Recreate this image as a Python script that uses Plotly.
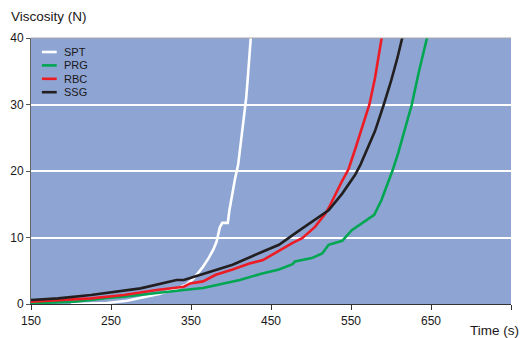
import plotly.graph_objects as go

# Viscosity build-up over time for four samples
spt_t = [200, 245, 270, 287, 310, 332, 344, 353, 361, 365, 372, 378, 382, 386, 389, 396,
         398, 402, 405, 409, 413, 416, 419, 421, 423, 425]
spt_v = [0.0, 0.15, 0.5, 0.9, 1.5, 2.3, 2.9, 3.8, 5.0, 5.6, 6.9, 8.2, 9.4, 11.5, 12.2, 12.2,
         14.1, 17.1, 18.8, 21.0, 25.0, 28.0, 31.0, 34.0, 37.0, 40.5]

prg_t = [150, 175, 204, 225, 245, 266, 287, 307, 328, 341, 365, 381, 411, 439, 460, 477,
         480, 501, 514, 522, 539, 551, 567, 579, 588, 596, 602, 609, 618, 626, 635, 646]
prg_v = [0.1, 0.2, 0.35, 0.6, 0.9, 1.1, 1.35, 1.6, 1.85, 2.1, 2.4, 2.8, 3.6, 4.6, 5.2, 6.0,
         6.4, 6.9, 7.6, 8.9, 9.5, 11.1, 12.4, 13.4, 15.6, 18.1, 20.1, 22.7, 26.5, 30.0, 35.0, 40.5]

rbc_t = [150, 185, 225, 266, 307, 341, 349, 365, 381, 402, 423, 440, 460, 477, 489, 505,
         518, 522, 538, 547, 555, 565, 573, 580, 585, 589]
rbc_v = [0.35, 0.6, 0.85, 1.35, 2.1, 2.6, 3.1, 3.4, 4.4, 5.2, 6.1, 6.6, 8.0, 9.2, 9.9, 11.6,
         13.6, 14.4, 18.3, 20.3, 23.2, 27.0, 30.0, 34.0, 37.5, 40.5]

ssg_t = [150, 184, 225, 254, 287, 332, 341, 365, 402, 440, 460, 481, 501, 514, 522, 539,
         555, 562, 570, 580, 591, 600, 608, 615]
ssg_v = [0.6, 0.85, 1.35, 1.85, 2.35, 3.6, 3.6, 4.5, 5.9, 7.9, 8.9, 10.7, 12.4, 13.5, 14.1, 16.6,
         19.4, 21.0, 23.2, 26.0, 30.0, 33.5, 37.0, 40.5]

names = ["SPT", "PRG", "RBC", "SSG"]
colors = ["#FFFFFF", "#00A651", "#ED1C24", "#231F20"]
series = [(spt_t, spt_v), (prg_t, prg_v), (rbc_t, rbc_v), (ssg_t, ssg_v)]

x_ticks = [150, 250, 350, 450, 550, 650, 750]
y_ticks = [0, 10, 20, 30, 40]

FONT = "Liberation Sans, Arial, Helvetica, sans-serif"
INK = "#1A1718"
W, H = 521, 338
ML, MR, MT, MB = 26, 10, 38, 34
PW, PH = W - ML - MR, H - MT - MB

fig = go.Figure()
for (t, v), nm, col in zip(series, names, colors):
    fig.add_trace(go.Scatter(x=t, y=v, mode="lines", name=nm,
                             line=dict(color=col, width=2.6),
                             showlegend=False))

# compact legend: short swatch + label
for k, (nm, col) in enumerate(zip(names, colors)):
    yy = 1 - (52 - MT + k * 13.4) / PH
    fig.add_shape(type="line", xref="paper", yref="paper",
                  x0=(37 - ML) / PW, x1=(52 - ML) / PW, y0=yy, y1=yy,
                  line=dict(color=col, width=2.6))
    fig.add_annotation(xref="paper", yref="paper", x=(57 - ML) / PW, y=yy,
                       xanchor="left", yanchor="middle", text=nm, showarrow=False,
                       font=dict(family=FONT, size=11, color=INK))

# top frame line
fig.add_shape(type="line", xref="paper", yref="paper", x0=0, x1=1, y0=1, y1=1,
              line=dict(color="#A8A8A8", width=1.2))

fig.add_annotation(xref="paper", yref="paper", x=(4 - ML) / PW, y=1 + (MT - 17) / PH,
                   xanchor="left", yanchor="middle", text="Viscosity (N)", showarrow=False,
                   font=dict(family=FONT, size=13.5, color=INK))
fig.add_annotation(xref="paper", yref="paper", x=(W - ML) / PW, y=-(330 - MT - PH) / PH,
                   xanchor="right", yanchor="middle", text="Time (s)", showarrow=False,
                   font=dict(family=FONT, size=13.5, color=INK))

fig.update_layout(
    width=W, height=H,
    margin=dict(l=ML, r=MR, t=MT, b=MB, pad=0),
    paper_bgcolor="white",
    plot_bgcolor="#8EA5D3",
    font=dict(family=FONT, size=12, color=INK),
    xaxis=dict(range=[150, 750], tickvals=x_ticks, ticktext=[str(v) for v in x_ticks],
               showgrid=False, zeroline=False, showline=True, linecolor="#333333",
               linewidth=1.4, ticks="outside", ticklen=5, tickcolor="#333333",
               tickwidth=1, tickfont=dict(size=12)),
    yaxis=dict(range=[0, 40], tickvals=y_ticks, showgrid=True, gridcolor="white",
               gridwidth=1.6, zeroline=False, showline=True, linecolor="#666666",
               linewidth=1, ticks="outside", ticklen=4, tickcolor="#555555",
               tickfont=dict(size=12)),
)

fig.write_html("out.html")
